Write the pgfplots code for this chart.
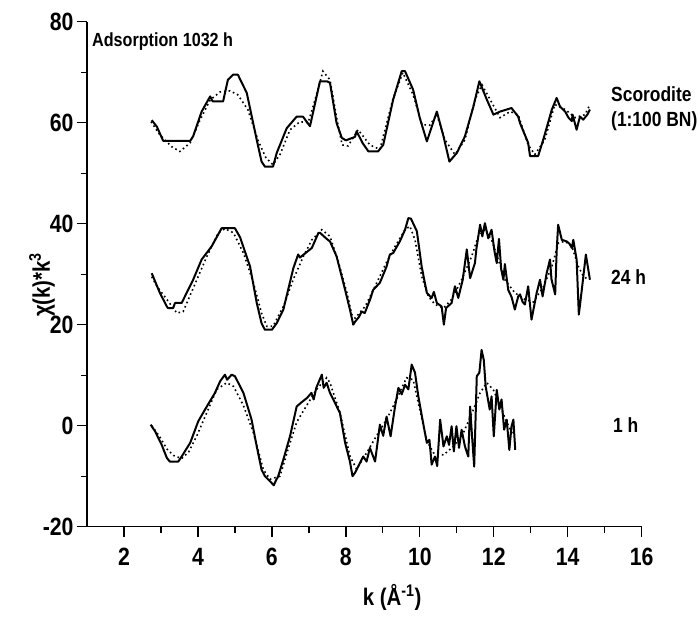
\documentclass[border=0pt]{standalone}
\usepackage{pgfplots}
\pgfplotsset{compat=1.18}
\usepackage{fontspec}
\setmainfont{Liberation Sans}[FakeStretch=0.85]
\begin{document}
\begin{tikzpicture}[x=1pt,y=1pt]
\path[use as bounding box] (0,0) rectangle (699,617);
\begin{axis}[
  at={(87pt,90.3pt)}, anchor=south west,
  scale only axis, width=554.7pt, height=505pt,
  xmin=1, xmax=16, ymin=-20, ymax=80,
  axis x line*=bottom, axis y line*=left,
  xtick={2,4,...,16}, minor xtick={3,5,...,15},
  ytick={-20,0,...,80}, minor ytick={-10,10,...,70},
  tick align=outside, major tick length=10pt, minor tick length=6pt,
  every tick/.style={black, line width=1.3pt},
  axis line style={line width=1.4pt},
  tick label style={font=\fontsize{25}{25}\selectfont\bfseries},
  xticklabel style={yshift=-8pt},
  /pgf/number format/assume math mode=true,
  xlabel={k (Å\textsuperscript{-1})},
  ylabel={χ(k)*k\textsuperscript{3}},
  label style={font=\fontsize{24}{27}\selectfont\bfseries},
  xlabel style={at={(axis description cs:0.55,-0.1406)}, anchor=center},
  ylabel style={at={(axis description cs:-0.081,0.479)}, anchor=center},
  clip=false,
  solid/.style={black, line width=2pt, line join=round},
  fit/.style={black, line width=1.6pt, dash pattern=on 1.6pt off 3pt},
]
% Scorodite (data)
\addplot[solid] coordinates {(2.75,60.5)(2.89,59.2)(3.06,56.4)(3.79,56.4)(3.87,57.3)(4.10,62.2)(4.33,65.2)(4.40,64.2)(4.68,64.2)(4.81,68.5)(4.95,69.5)(5.08,69.5)(5.32,65.9)(5.59,56.6)(5.72,52.3)(5.81,51.3)(6.03,51.3)(6.13,54)(6.40,58.9)(6.67,61.2)(6.84,61.2)(7.03,59.3)(7.30,68.2)(7.49,68.2)(7.57,67.9)(7.75,59.9)(7.89,57)(8.00,56.5)(8.25,57.2)(8.29,58.3)(8.45,56)(8.61,54.3)(8.87,54.3)(9.01,55.6)(9.28,64.6)(9.51,70.2)(9.60,70.2)(9.82,66.5)(10.00,60.9)(10.19,56.3)(10.46,62.2)(10.64,57.3)(10.80,52.3)(11.00,54)(11.22,57.3)(11.45,63.2)(11.61,68.2)(11.81,64.6)(11.99,61.6)(12.17,62.2)(12.48,62.9)(12.66,61.2)(12.71,59.9)(12.93,56)(12.98,53.4)(13.20,53.4)(13.34,56.7)(13.57,62.6)(13.70,64.9)(13.79,63.2)(13.93,62.2)(14.02,61.0)(14.11,60.3)(14.13,61.6)(14.24,58.6)(14.33,61.2)(14.42,60.6)(14.53,61.6)(14.60,62.6)};
% Scorodite (fit)
\addplot[fit] coordinates {(2.73,60.2)(2.97,57.6)(3.3,55.2)(3.51,54.3)(3.79,56)(4.06,60.6)(4.33,64.5)(4.6,66.1)(4.87,66.3)(5.08,65.5)(5.35,62.6)(5.62,56.6)(5.84,53)(6.03,51.7)(6.22,53.7)(6.49,58.6)(6.76,60.2)(6.98,60)(7.17,64.6)(7.38,70.2)(7.57,68.5)(7.76,60.6)(7.90,55.6)(8.06,55.4)(8.33,58.6)(8.65,55.6)(8.92,54.7)(9.27,64.6)(9.54,69.9)(9.82,65.5)(10.06,59.6)(10.27,59.5)(10.46,61.6)(10.68,56.6)(10.95,53.7)(11.22,56.6)(11.49,64.6)(11.68,67.5)(11.90,64.6)(12.17,61)(12.44,62.2)(12.66,61.6)(12.93,55.6)(13.11,53.7)(13.38,56.6)(13.65,63.6)(13.93,62.6)(14.20,61)(14.47,61.6)(14.60,63.6)};
% 24 h (data)
\addplot[solid] coordinates {(2.75,30.2)(2.97,26.3)(3.16,23.6)(3.19,23.3)(3.33,23.3)(3.38,24.3)(3.56,24.3)(3.87,28.9)(4.10,32.9)(4.37,35.5)(4.64,39.1)(5.00,39.1)(5.14,37.3)(5.41,31.5)(5.59,24.3)(5.72,20.3)(5.81,19)(6.00,19)(6.13,20.3)(6.31,23)(6.58,31.2)(6.71,33.9)(6.76,33.3)(7.08,35.2)(7.26,38.2)(7.30,38.2)(7.48,37)(7.57,36.5)(7.75,33.5)(7.98,26.9)(8.11,23)(8.20,20)(8.25,20.6)(8.35,21.5)(8.43,22.6)(8.51,22.3)(8.65,24.9)(8.74,26.9)(8.92,28.3)(9.10,31.5)(9.19,33.9)(9.28,34.2)(9.46,36.5)(9.60,38.8)(9.69,41.1)(9.76,41)(9.92,38.5)(10.05,31.5)(10.19,26.3)(10.32,25.3)(10.38,26.5)(10.46,24.3)(10.59,23.6)(10.65,20)(10.71,23.3)(10.86,24.3)(10.95,27.6)(11.04,25.3)(11.16,28.9)(11.27,34.9)(11.36,29.2)(11.49,32.2)(11.53,35)(11.63,39.8)(11.69,37.5)(11.76,40.1)(11.85,37.1)(11.94,38.8)(12.02,34.5)(12.08,32.2)(12.14,37)(12.20,31)(12.26,28.9)(12.30,32)(12.39,26.9)(12.48,25.5)(12.57,23)(12.66,25.6)(12.71,26)(12.78,24.5)(12.84,24)(12.93,27.6)(13.02,21)(13.16,26.3)(13.25,28.9)(13.32,25.6)(13.43,30.2)(13.52,32.9)(13.56,29)(13.66,26)(13.70,34.5)(13.74,39.8)(13.84,36.8)(13.97,36.5)(14.05,36)(14.11,35.2)(14.15,36.8)(14.24,32.9)(14.30,22)(14.38,26.9)(14.49,33.9)(14.60,28.9)};
% 24 h (fit)
\addplot[fit] coordinates {(2.75,29.5)(2.9,27.5)(3.16,25)(3.43,22.3)(3.6,22.6)(3.97,28.9)(4.24,33.5)(4.55,38.2)(4.73,39)(4.96,38.2)(5.23,34.2)(5.5,28.3)(5.72,22.3)(5.86,19.7)(6.03,19.7)(6.31,23.6)(6.58,29)(6.85,33.5)(7.08,36.8)(7.35,38.8)(7.57,37.5)(7.78,32.9)(8.03,26.3)(8.16,22)(8.25,21.3)(8.52,23.6)(8.79,27.6)(9.06,31.8)(9.33,35.5)(9.6,38.8)(9.73,39.5)(9.87,36.8)(10.05,29.6)(10.23,25.6)(10.41,24)(10.64,23.3)(10.86,25)(11.13,28.9)(11.4,33.5)(11.58,37.5)(11.76,38.8)(11.94,36.8)(12.12,32.9)(12.30,28.9)(12.57,26.3)(12.84,25)(13.07,24.5)(13.34,27.5)(13.57,31.5)(13.75,36.2)(13.93,36.5)(14.11,35.5)(14.29,31.5)(14.42,29.6)(14.56,28.9)};
% 1 h (data)
\addplot[solid] coordinates {(2.72,0.2)(2.84,-1.1)(3.02,-3.8)(3.16,-6.4)(3.24,-7.1)(3.47,-7.1)(3.56,-6.1)(3.79,-3.4)(4.01,0.9)(4.24,3.8)(4.46,6.5)(4.60,8.8)(4.73,10.1)(4.79,9.1)(4.91,10.1)(5.0,9.8)(5.23,6.5)(5.45,1.2)(5.59,-4.1)(5.72,-8.7)(5.81,-10)(5.95,-11)(6.05,-11.8)(6.1,-11)(6.17,-10)(6.31,-6.7)(6.49,-2.1)(6.67,3.8)(6.78,4.5)(6.95,5.5)(7.07,6.5)(7.13,5.2)(7.2,7.5)(7.35,10.1)(7.4,7.5)(7.48,8.5)(7.57,6.5)(7.66,5.2)(7.84,2.5)(7.98,-3.4)(8.11,-7.1)(8.18,-10)(8.25,-9.3)(8.47,-6.1)(8.56,-7.1)(8.65,-4.4)(8.79,-7.1)(8.92,0.2)(9.01,-2)(9.1,1.8)(9.21,-2.1)(9.33,3.8)(9.42,7.5)(9.51,6.2)(9.6,8.1)(9.69,7.2)(9.78,12.1)(9.87,10.5)(9.96,5.8)(10.09,0.5)(10.19,-3.4)(10.26,-2.8)(10.32,-7.7)(10.41,-6.1)(10.47,-8)(10.55,1.2)(10.64,-4.1)(10.73,-2.1)(10.79,-3.8)(10.86,-0.1)(10.92,-5.1)(10.99,-0.1)(11.06,-4.4)(11.13,-0.8)(11.22,-4.1)(11.31,-6.1)(11.36,3.8)(11.40,-0.8)(11.47,-8.1)(11.54,9.8)(11.61,10.5)(11.67,15)(11.73,13)(11.78,7.8)(11.89,3.2)(11.94,5.8)(12.0,-2.1)(12.08,7.1)(12.15,3.2)(12.21,5.2)(12.28,-0.8)(12.35,1.2)(12.42,-4.8)(12.48,-0.1)(12.53,1.2)(12.58,-4.8)};
% 1 h (fit)
\addplot[fit] coordinates {(2.75,0)(2.95,-2)(3.16,-4.6)(3.34,-5.9)(3.56,-6.5)(3.75,-5.2)(3.97,-2)(4.24,2.6)(4.51,7.2)(4.78,8.5)(4.96,7.8)(5.23,4)(5.5,-1.4)(5.77,-8.7)(5.95,-10.6)(6.22,-10)(6.44,-4.6)(6.67,0.7)(6.94,4)(7.21,7.2)(7.48,9.5)(7.57,8.5)(7.84,2.6)(8.11,-6)(8.29,-8.6)(8.56,-5.4)(8.83,-2)(9.1,1.2)(9.37,5.2)(9.64,9.5)(9.82,9.1)(10.0,3.2)(10.18,-2.8)(10.37,-5.4)(10.64,-5.8)(10.91,-4.1)(11.18,-1.4)(11.45,3.2)(11.63,6.5)(11.81,8.5)(11.99,7.1)(12.17,4)(12.35,0.7)(12.53,-2)};
\end{axis}
\node[anchor=west, inner sep=0pt, font=\fontsize{19}{22}\selectfont\bfseries] at (92,575) {Adsorption 1032 h};
\node[anchor=west, inner sep=0pt, font=\fontsize{20.5}{24}\selectfont\bfseries] at (611,523) {Scorodite};
\node[anchor=west, inner sep=0pt, font=\fontsize{20.5}{24}\selectfont\bfseries] at (611,496) {(1:100 BN)};
\node[anchor=west, inner sep=0pt, font=\fontsize{20.5}{24}\selectfont\bfseries] at (611,340) {24 h};
\node[anchor=west, inner sep=0pt, font=\fontsize{20.5}{24}\selectfont\bfseries] at (613,192) {1 h};
\end{tikzpicture}
\end{document}
